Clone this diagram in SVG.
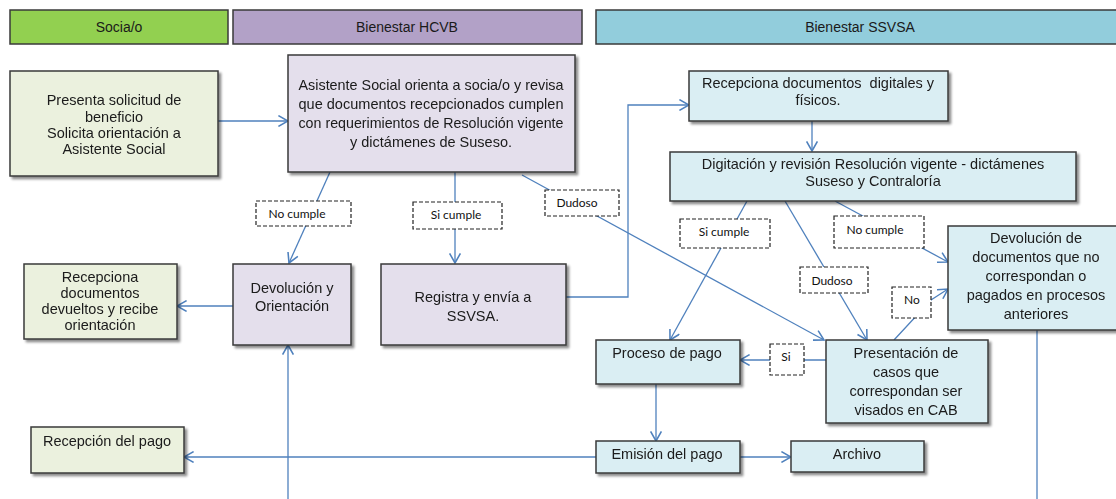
<svg xmlns="http://www.w3.org/2000/svg" width="1116" height="499" viewBox="0 0 1116 499">
<defs>
<filter id="sh" x="-10%" y="-10%" width="130%" height="140%">
<feDropShadow dx="2.5" dy="2.5" stdDeviation="1.3" flood-color="#000" flood-opacity="0.45"/>
</filter>
<marker id="ah" markerWidth="12" markerHeight="12" refX="9" refY="5" orient="auto" markerUnits="userSpaceOnUse" viewBox="0 0 10 10">
<path d="M1,0.5 L9,5 L1,9.5" fill="none" stroke="#4F81BD" stroke-width="1.3"/>
</marker>
<style>
.t{font-family:"Liberation Sans",Arial,sans-serif;font-size:14.5px;fill:#1a1a1a;text-anchor:middle}
.h{font-family:"Liberation Sans",Arial,sans-serif;font-size:14px;fill:#1a1a1a;text-anchor:middle}
.l{font-family:Lato,"Open Sans",sans-serif;font-size:12px;fill:#111;text-anchor:middle}
.g{fill:#EBF1DE;stroke:#3a3a3a;stroke-width:1.5}
.p{fill:#E4DFEC;stroke:#3a3a3a;stroke-width:1.5}
.b{fill:#DAEEF3;stroke:#3a3a3a;stroke-width:1.5}
.lb{fill:#fff;stroke:#222;stroke-width:1.2;stroke-dasharray:4 2}
.c{fill:none;stroke:#4F81BD;stroke-width:1.3}
</style>
</defs>
<rect width="1116" height="499" fill="#fff"/>

<g id="headers">
<rect x="10" y="10" width="218" height="34" fill="#92D050" stroke="#3a3a3a" stroke-width="1.5"/>
<text class="h" x="119" y="32">Socia/o</text>
<rect x="233" y="10" width="349" height="34" fill="#B2A1C7" stroke="#3a3a3a" stroke-width="1.5"/>
<text class="h" x="407" y="32">Bienestar HCVB</text>
<rect x="596" y="10" width="530" height="34" fill="#92CDDC" stroke="#3a3a3a" stroke-width="1.5"/>
<text class="h" x="860" y="32">Bienestar SSVSA</text>
</g>

<g id="connectors">
<path class="c" d="M218,121 L288,121" marker-end="url(#ah)"/>
<path class="c" d="M330,172 L289,263" marker-end="url(#ah)"/>
<path class="c" d="M455,172 L455,263" marker-end="url(#ah)"/>
<path class="c" d="M522,175 L824,340" marker-end="url(#ah)"/>
<path class="c" d="M566,297 L628,297 L628,105 L689,105" marker-end="url(#ah)"/>
<path class="c" d="M812,121 L812,151" marker-end="url(#ah)"/>
<path class="c" d="M747,201 L670,340" marker-end="url(#ah)"/>
<path class="c" d="M785,201 L867,340" marker-end="url(#ah)"/>
<path class="c" d="M835,201 L948,262" marker-end="url(#ah)"/>
<path class="c" d="M894,340 L931,300 L948,289" marker-end="url(#ah)"/>
<path class="c" d="M826,360 L740,360" marker-end="url(#ah)"/>
<path class="c" d="M656,384 L656,441" marker-end="url(#ah)"/>
<path class="c" d="M740,457 L791,457" marker-end="url(#ah)"/>
<path class="c" d="M596,457 L184,457" marker-end="url(#ah)"/>
<path class="c" d="M233,306 L177,306" marker-end="url(#ah)"/>
<path class="c" d="M288,499 L288,345" marker-end="url(#ah)"/>
<path class="c" d="M1037,330 L1037,499"/>
</g>

<g id="labels">
<g id="lbl-nocumple1"><rect class="lb" x="256" y="201" width="95" height="25"/><text class="l" x="297" y="218">No cumple</text></g>
<g id="lbl-sicumple1"><rect class="lb" x="413" y="202" width="89" height="27"/><text class="l" x="456" y="219">Si cumple</text></g>
<g id="lbl-dudoso1"><rect class="lb" x="545" y="190" width="74" height="26"/><text class="l" x="577" y="207">Dudoso</text></g>
<g id="lbl-sicumple2"><rect class="lb" x="680" y="219" width="90" height="29"/><text class="l" x="724" y="236">Si cumple</text></g>
<g id="lbl-nocumple2"><rect class="lb" x="834" y="216" width="90" height="32"/><text class="l" x="875" y="234">No cumple</text></g>
<g id="lbl-dudoso2"><rect class="lb" x="800" y="267" width="68" height="26"/><text class="l" x="832" y="285">Dudoso</text></g>
<g id="lbl-no"><rect class="lb" x="892" y="287" width="39" height="31"/><text class="l" x="912" y="304">No</text></g>
<g id="lbl-si"><rect class="lb" x="770" y="344" width="34" height="31"/><text class="l" x="786" y="361">Si</text></g>
</g>

<g id="n-presenta" filter="url(#sh)">
<rect class="g" x="10" y="71" width="208" height="105"/>
<text class="t" x="114" y="105">Presenta solicitud de</text>
<text class="t" x="114" y="122">beneficio</text>
<text class="t" x="114" y="138">Solicita orientación a</text>
<text class="t" x="114" y="154">Asistente Social</text>
</g>

<g id="n-asistente" filter="url(#sh)">
<rect class="p" x="288" y="55" width="287" height="117"/>
<text class="t" x="431" y="90" textLength="265" lengthAdjust="spacingAndGlyphs">Asistente Social orienta a socia/o y revisa</text>
<text class="t" x="431" y="109" textLength="265" lengthAdjust="spacingAndGlyphs">que documentos recepcionados cumplen</text>
<text class="t" x="431" y="128" textLength="265" lengthAdjust="spacingAndGlyphs">con requerimientos de Resolución vigente</text>
<text class="t" x="431" y="147">y dictámenes de Suseso.</text>
</g>

<g id="n-recepciona-devueltos" filter="url(#sh)">
<rect class="g" x="24" y="264" width="153" height="75"/>
<text class="t" x="100" y="282">Recepciona</text>
<text class="t" x="100" y="298">documentos</text>
<text class="t" x="100" y="314">devueltos y recibe</text>
<text class="t" x="100" y="330">orientación</text>
</g>

<g id="n-devolucion" filter="url(#sh)">
<rect class="p" x="233" y="264" width="118" height="81"/>
<text class="t" x="292" y="293">Devolución y</text>
<text class="t" x="292" y="311">Orientación</text>
</g>

<g id="n-registra" filter="url(#sh)">
<rect class="p" x="381" y="264" width="185" height="81"/>
<text class="t" x="473" y="302">Registra y envía a</text>
<text class="t" x="473" y="321">SSVSA.</text>
</g>

<g id="n-recepciona-digitales" filter="url(#sh)">
<rect class="b" x="689" y="71" width="259" height="50"/>
<text class="t" x="818" y="88" xml:space="preserve">Recepciona documentos  digitales y</text>
<text class="t" x="818" y="105">físicos.</text>
</g>

<g id="n-digitacion" filter="url(#sh)">
<rect class="b" x="670" y="152" width="406" height="49"/>
<text class="t" x="873" y="169">Digitación y revisión Resolución vigente - dictámenes</text>
<text class="t" x="873" y="186">Suseso y Contraloría</text>
</g>

<g id="n-devolucion-docs" filter="url(#sh)">
<rect class="b" x="948" y="226" width="180" height="104"/>
<text class="t" x="1036" y="243">Devolución de</text>
<text class="t" x="1036" y="262">documentos que no</text>
<text class="t" x="1036" y="281">correspondan o</text>
<text class="t" x="1036" y="300">pagados en procesos</text>
<text class="t" x="1036" y="319">anteriores</text>
</g>

<g id="n-presentacion" filter="url(#sh)">
<rect class="b" x="826" y="340" width="162" height="83"/>
<text class="t" x="906" y="358">Presentación de</text>
<text class="t" x="906" y="377">casos que</text>
<text class="t" x="906" y="396">correspondan ser</text>
<text class="t" x="906" y="415">visados en CAB</text>
</g>

<g id="n-proceso" filter="url(#sh)">
<rect class="b" x="596" y="340" width="144" height="44"/>
<text class="t" x="667" y="358">Proceso de pago</text>
</g>

<g id="n-emision" filter="url(#sh)">
<rect class="b" x="596" y="441" width="144" height="32"/>
<text class="t" x="667" y="459">Emisión del pago</text>
</g>

<g id="n-archivo" filter="url(#sh)">
<rect class="b" x="791" y="441" width="133" height="31"/>
<text class="t" x="857" y="459">Archivo</text>
</g>

<g id="n-recepcion-pago" filter="url(#sh)">
<rect class="g" x="31" y="427" width="153" height="46"/>
<text class="t" x="107" y="446">Recepción del pago</text>
</g>
</svg>
